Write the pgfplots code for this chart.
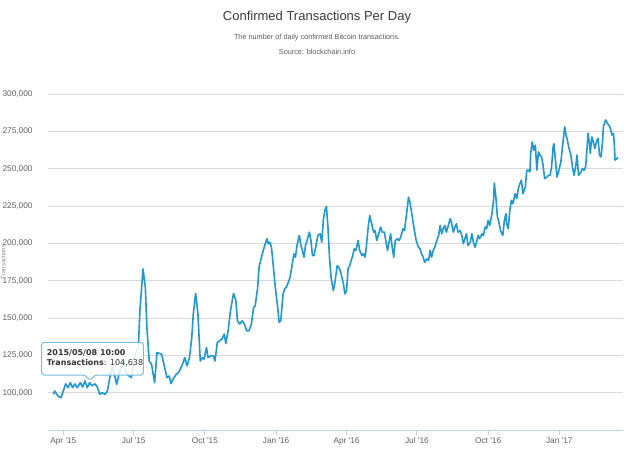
\documentclass[border=0pt]{standalone}
\usepackage{pgfplots}
\pgfplotsset{compat=1.18}
\usepackage{fontspec}
\setmainfont{DejaVu Sans}
\newfontfamily\titlefont{Liberation Sans}
\definecolor{linecol}{RGB}{30,152,205}
\definecolor{gridcol}{RGB}{216,216,216}
\definecolor{axiscol}{RGB}{192,208,224}
\definecolor{labcol}{RGB}{96,96,96}
\definecolor{tipcol}{RGB}{120,188,218}

% day 0 = 2015-04-01, values in transactions per day
\pgfplotstableread{
day value
-13 98900
-11 101100
-7 97800
-3 96600
0 101100
3 105900
6 103400
9 106700
12 103400
15 105900
18 103400
22 106700
25 103800
28 107900
31 103400
34 106700
37 104638
41 105900
44 103800
47 98900
50 100000
54 98900
57 101100
60 110100
63 116800
65 114600
69 105600
73 114600
78 121300
82 112400
88 110100
93 126000
97 130300
99 155000
103 183000
106 170600
108 143700
111 121300
114 119100
118 106700
121 126900
127 125800
130 119100
134 110100
137 111200
139 106100
143 110100
146 112400
149 113400
152 116800
154 119100
157 123500
160 118000
163 123500
166 137000
168 152700
171 166600
174 152700
177 121300
180 123500
182 122500
185 130300
187 123500
191 124700
194 124700
196 121300
199 133600
202 134800
205 135900
208 139300
210 133000
213 141500
216 154900
220 166600
223 161700
225 148200
228 146000
231 148200
234 146000
237 141500
240 141500
243 146000
246 157200
248 158300
250 166200
251 169500
253 184100
256 190800
259 196400
263 203200
265 199800
267 200900
269 197500
274 170600
277 157200
279 147100
281 148200
284 166200
286 169500
288 170600
290 172900
293 177300
296 186300
298 193100
300 190800
302 198700
305 205400
307 198700
309 195400
311 190800
313 198700
315 202000
318 207600
320 202000
322 191900
324 191900
327 199800
329 205400
332 206500
334 200900
336 215500
338 222200
340 224900
342 211000
344 190800
346 177300
349 168400
351 174000
354 185200
357 183000
359 179600
362 172900
364 166200
366 168400
368 183000
370 185200
374 191900
376 196400
378 195300
381 202000
383 195300
386 191900
388 193100
390 190800
392 199800
394 211000
396 218800
399 212100
401 207600
403 208700
405 202000
407 205400
410 211000
412 207600
415 207600
417 200900
419 195300
421 200900
423 206500
425 197500
427 190800
429 202000
432 203200
434 202000
436 204200
439 209900
441 208700
443 217700
445 225600
446 231100
448 227800
450 221000
453 211000
456 202000
459 197500
461 196400
463 193100
465 190800
467 187400
470 189700
472 188600
474 195300
476 190800
478 195300
480 197500
482 200900
485 205400
487 212100
489 206500
491 209900
493 212100
495 207600
497 211000
500 216600
502 213200
504 207600
506 211000
508 213200
510 207600
513 208700
515 205400
517 199800
519 203200
521 206500
523 198700
526 200900
528 206500
530 200900
532 197500
534 200900
536 205400
538 203200
541 206500
543 205400
545 211000
547 209900
549 215500
551 212100
554 220000
556 228900
557 240500
559 231100
561 217700
563 214300
565 208700
568 205400
570 215500
572 220000
573 213200
575 209900
577 222200
579 228900
581 226700
584 233400
586 230100
588 236800
590 240100
592 242400
594 233400
597 237900
599 249100
601 249100
603 248000
604 260300
606 268100
608 262500
610 265900
612 249100
614 261400
616 259200
618 258100
620 252600
622 243500
625 244600
627 245700
629 245700
631 251300
633 264800
634 267000
636 255800
638 244600
640 248000
643 254700
644 259200
646 269300
648 278300
650 271500
651 270500
653 264800
656 259200
658 251300
660 245700
662 251300
664 259200
665 251300
666 245700
669 248000
671 250300
673 249100
675 251300
677 264800
678 273800
680 267100
681 260400
683 271500
685 268100
687 263700
689 268100
691 270500
693 259200
695 258100
697 269300
698 278300
700 281600
701 282800
703 280500
705 279400
707 277200
709 272700
711 273800
712 267100
713 255900
715 256900
717 257600
}\txdata

\begin{document}
\begin{tikzpicture}
\begin{axis}[
  scale only axis,
  width=575pt, height=335.7pt,
  xmin=-19.4, xmax=723.7,
  ymin=75000, ymax=300000,
  axis x line*=bottom, axis y line*=left,
  x axis line style={draw=axiscol, line width=1pt, -},
  y axis line style={draw=none},
  xtick={0,91,183,275,366,457,549,641},
  xticklabels={Apr \textquotesingle15,Jul \textquotesingle15,Oct \textquotesingle15,Jan \textquotesingle16,Apr \textquotesingle16,Jul \textquotesingle16,Oct \textquotesingle16,Jan \textquotesingle17},
  ytick={100000,125000,150000,175000,200000,225000,250000,275000,300000},
  scaled y ticks=false,
  /pgf/number format/fixed,
  /pgf/number format/1000 sep={,},
  /pgf/number format/assume math mode=true,
  ticklabel style={font=\titlefont\fontsize{8.3}{9}\selectfont, text=labcol},
  yticklabel style={inner sep=0pt, anchor=east, xshift=-10.5pt},
  xticklabel style={inner sep=0pt, anchor=base, yshift=-8pt},
  tick align=outside,
  major tick length=5pt,
  xtick style={draw=axiscol, line width=1pt},
  ytick style={draw=none},
  ymajorgrids=true,
  grid style={draw=gridcol, line width=0.9pt},
]
\addplot[color=linecol, line width=1.6pt, line join=round, mark=none] table[x=day, y=value] {\txdata};
\end{axis}

% tooltip
\draw[draw=tipcol, line width=1pt, fill=white, fill opacity=0.85, rounded corners=2.5pt]
  (-6.6pt,55pt) -- (36.7pt,55pt) -- (41.7pt,49.5pt) -- (46.7pt,55pt) -- (95pt,55pt)
  -- (95pt,87.7pt) -- (-6.6pt,87.7pt) -- cycle;
\node[anchor=west, inner sep=0pt, font=\fontsize{8}{9}\selectfont\bfseries, text=black!80] at (-1.6pt,77.3pt) {2015/05/08 10:00};
\node[anchor=west, inner sep=0pt, font=\fontsize{8}{9}\selectfont, text=black!80] at (-1.6pt,67.3pt) {\textbf{Transactions}: 104,638};

% y axis title at the left edge
\node[rotate=90, anchor=base, inner sep=0pt, font=\titlefont\fontsize{6}{7}\selectfont, text=black!45] at (-43pt,168pt) {Transactions};

% titles
\node[font=\titlefont\fontsize{13}{15}\selectfont, text=black!78] at (268.7pt,413.3pt) {Confirmed Transactions Per Day};
\node[font=\titlefont\fontsize{7.3}{9}\selectfont, text=black!65] at (268.7pt,392.3pt) {The number of daily confirmed Bitcoin transactions.};
\node[font=\titlefont\fontsize{7.3}{9}\selectfont, text=black!65] at (268.7pt,377.7pt) {Source: blockchain.info};

\pgfresetboundingbox
\path[use as bounding box] (-48.3pt,-26pt) rectangle (591.7pt,430pt);
\end{tikzpicture}
\end{document}
